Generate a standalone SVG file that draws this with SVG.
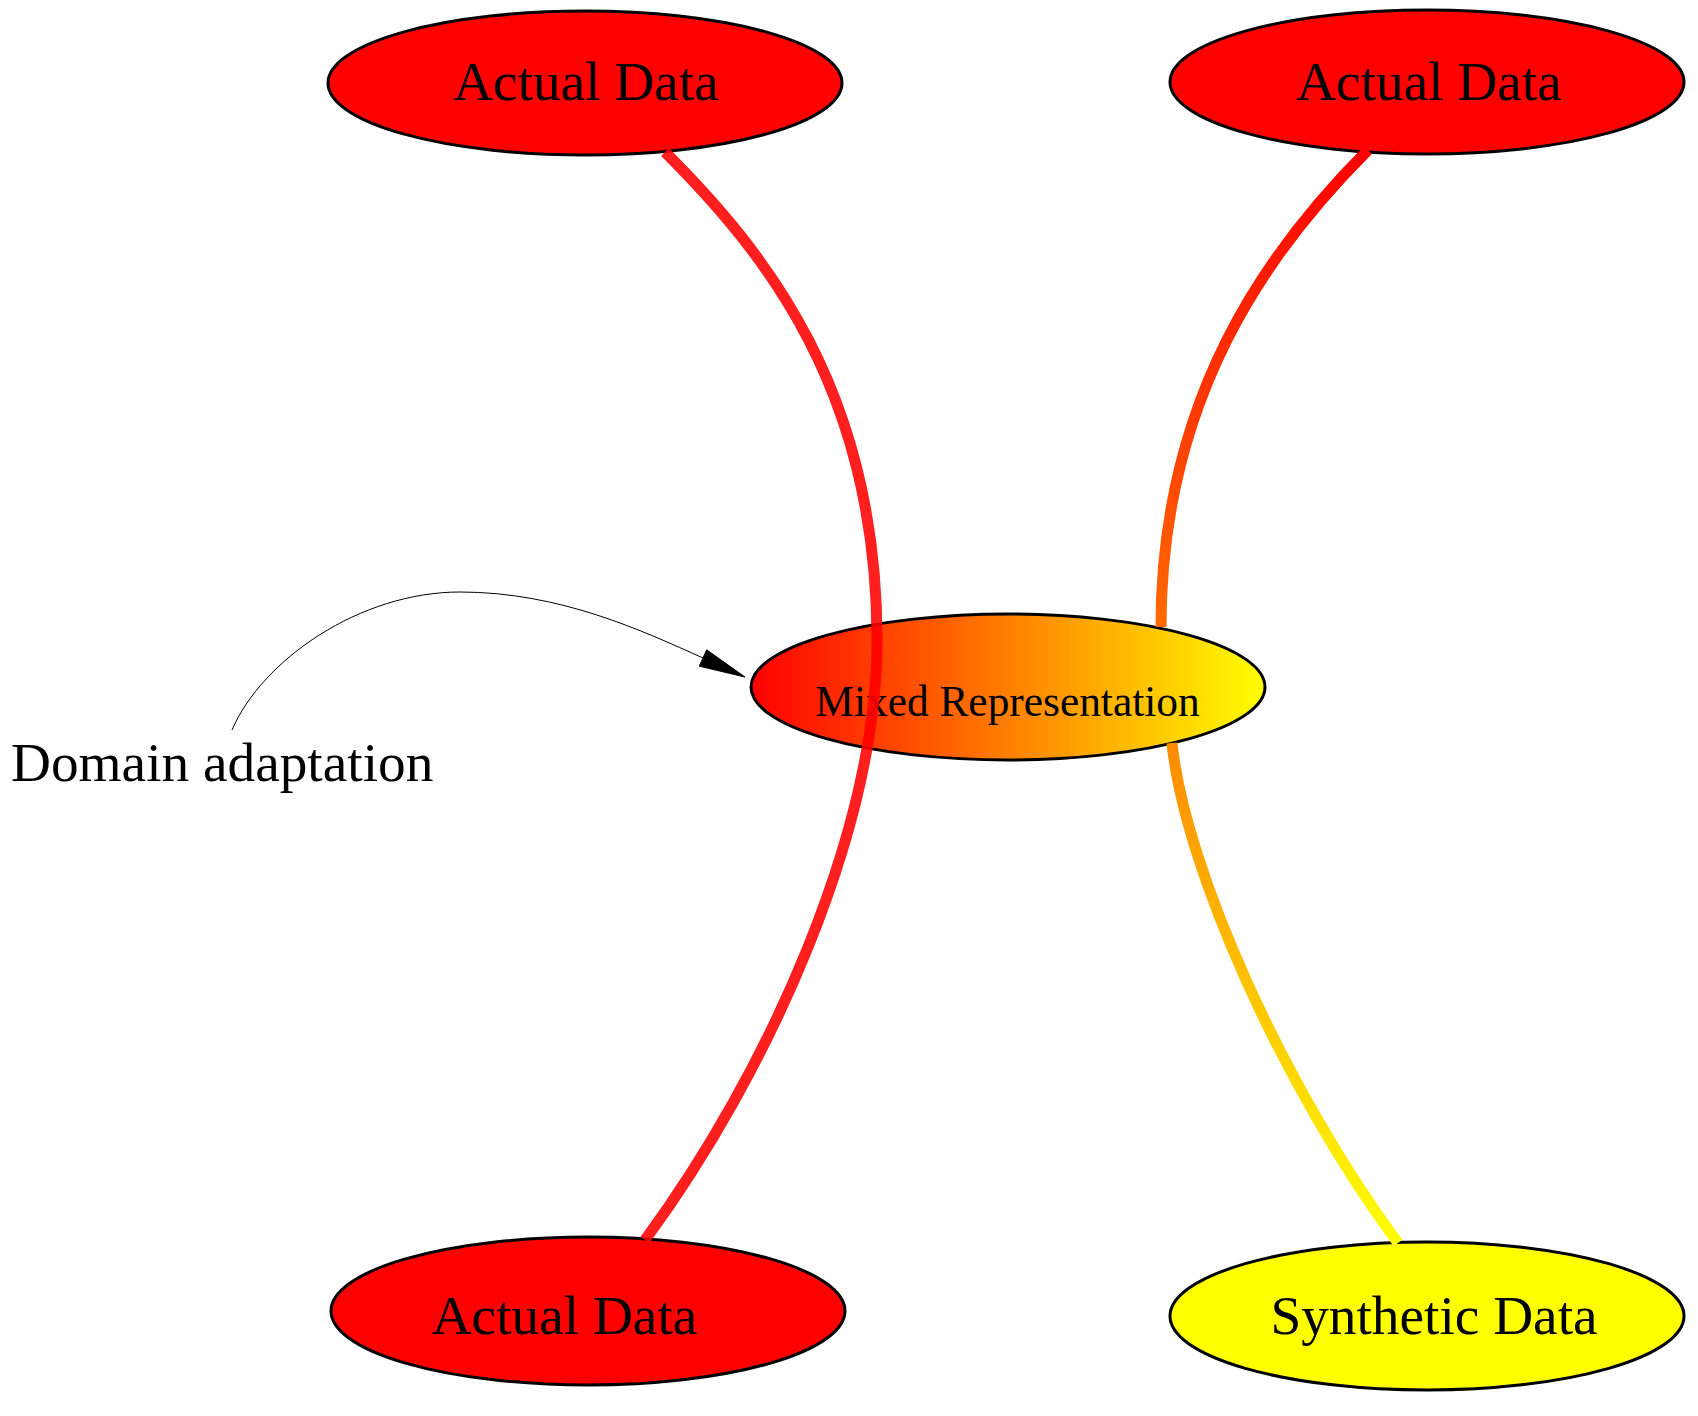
<svg xmlns="http://www.w3.org/2000/svg" width="1698" height="1416" viewBox="0 0 1698 1416">
<style>
.node ellipse{stroke:#000;stroke-width:3}
.lbl{font-family:"Liberation Serif","Times New Roman",serif;fill:#000;text-anchor:middle}
.big{font-size:55.3px}
.mid{font-size:43.4px}
.edge{fill:none;stroke-width:11}
</style>
<defs>
<linearGradient id="gMixed" x1="0" y1="0" x2="1" y2="0">
<stop offset="0" stop-color="#ff0000"/>
<stop offset="1" stop-color="#ffff00"/>
</linearGradient>
<linearGradient id="gUp" gradientUnits="userSpaceOnUse" x1="0" y1="150" x2="0" y2="627">
<stop offset="0" stop-color="#ff0000"/>
<stop offset="1" stop-color="#ff6a00"/>
</linearGradient>
<linearGradient id="gDown" gradientUnits="userSpaceOnUse" x1="0" y1="743" x2="0" y2="1243">
<stop offset="0" stop-color="#ff8a00"/>
<stop offset="1" stop-color="#ffff00"/>
</linearGradient>
</defs>
<rect width="1698" height="1416" fill="#fff"/>
<g id="n_actual_tl" class="node">
<ellipse cx="585" cy="83" rx="257" ry="72" fill="#ff0000"/>
<text class="lbl big" x="586" y="100">Actual Data</text>
</g>
<g id="n_actual_tr" class="node">
<ellipse cx="1427" cy="82" rx="257" ry="72" fill="#ff0000"/>
<text class="lbl big" x="1429" y="100">Actual Data</text>
</g>
<g id="n_mixed" class="node">
<ellipse cx="1008" cy="687" rx="257" ry="73" fill="url(#gMixed)"/>
<text class="lbl mid" x="1007.5" y="716">Mixed Representation</text>
</g>
<g id="n_actual_bl" class="node">
<ellipse cx="588" cy="1311" rx="257" ry="74" fill="#ff0000"/>
<text class="lbl big" x="564.5" y="1334">Actual Data</text>
</g>
<g id="n_synthetic" class="node">
<ellipse cx="1427" cy="1316" rx="257" ry="74" fill="#ffff00"/>
<text class="lbl big" x="1434" y="1334">Synthetic Data</text>
</g>
<g id="n_domain" class="node">
<text class="lbl big" x="11" y="781" style="text-anchor:start">Domain adaptation</text>
</g>
<g id="connectors">
<path class="edge" stroke="#ff0000" stroke-opacity="0.88" d="M665,152 C765,252 877,390 877,640 C877,830 770,1070 645,1240"/>
<path class="edge" stroke="url(#gUp)" d="M1368,150 C1268,250 1161,397 1161,627"/>
<path class="edge" stroke="url(#gDown)" d="M1172,743 C1185,870 1285,1090 1398,1243"/>
<path fill="none" stroke="#000" stroke-width="1" d="M232,730 C262,660 360,592 460,592 C560,592 643,631 703,658"/>
<polygon fill="#000" stroke="#000" stroke-width="1" points="706.7,649.8 745,677 699.3,666.2"/>
</g>
</svg>
